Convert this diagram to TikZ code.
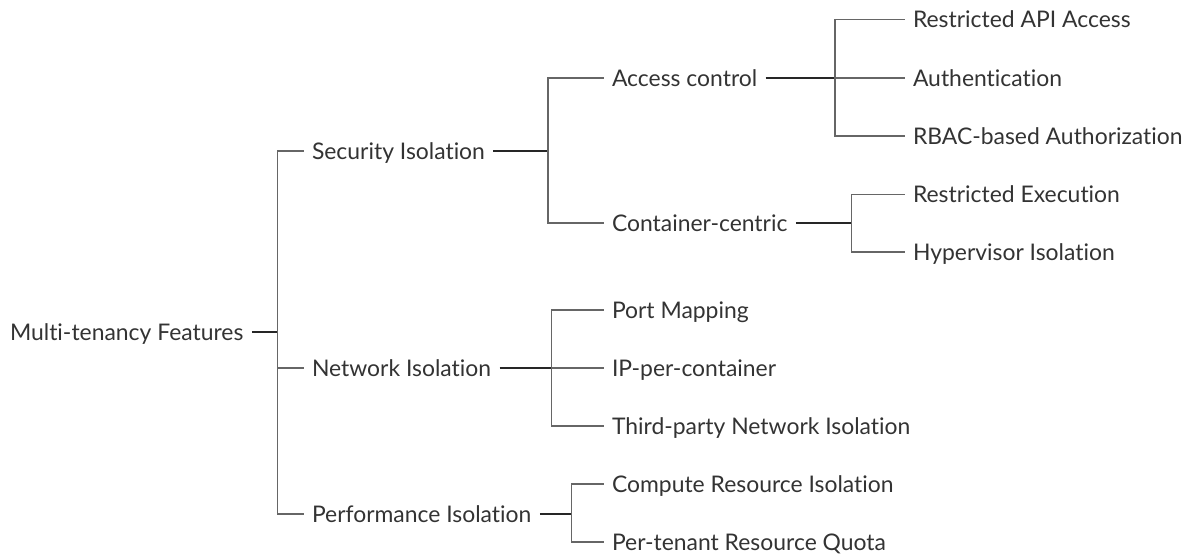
\documentclass[tikz,border=0pt]{standalone}
\usepackage{fontspec}
\setmainfont{Lato}[Ligatures=NoCommon]
\begin{document}
\begin{tikzpicture}[x=1pt,y=-1pt,
  lbl/.style={anchor=west, inner xsep=8.5pt, inner ysep=0pt, outer sep=0pt,
    text height=16.4pt, text depth=0pt, font=\fontsize{22.9}{27}\selectfont, text=black!80},
  parentline/.style={draw=black!85, line width=1.3pt},
  childline/.style={draw=black!60, line width=1.1pt}]
\useasboundingbox (0,0) rectangle (1189,554);
% nodes
\node[lbl] (root) at (1.5,332) {Multi-tenancy Features};
\node[lbl] (sec) at (303.5,151) {Security Isolation};
\node[lbl] (net) at (303.5,368) {Network Isolation};
\node[lbl] (perf) at (303.5,514) {Performance Isolation};
\node[lbl] (acc) at (603.5,78) {Access control};
\node[lbl] (cont) at (603.5,223) {Container-centric};
\node[lbl] (rapi) at (904.5,19.5) {Restricted API Access};
\node[lbl] (auth) at (904.5,78) {Authentication};
\node[lbl] (rbac) at (904.5,136) {RBAC-based Authorization};
\node[lbl] (rexe) at (904.5,194.5) {Restricted Execution};
\node[lbl] (hyp) at (904.5,252) {Hypervisor Isolation};
\node[lbl] (port) at (603.5,310) {Port Mapping};
\node[lbl] (ip) at (603.5,368) {IP-per-container};
\node[lbl] (third) at (603.5,426) {Third-party Network Isolation};
\node[lbl] (comp) at (603.5,484) {Compute Resource Isolation};
\node[lbl] (quota) at (603.5,542) {Per-tenant Resource Quota};
% junctions
\coordinate (j0) at (277.5,332);
\coordinate (js) at (548,151);
\coordinate (ja) at (835,78);
\coordinate (jc) at (851.5,223);
\coordinate (jn) at (551.5,368);
\coordinate (jp) at (571.5,514);
% root
\draw[parentline] (root.east) -- (j0);
\draw[childline] (sec.west) -| (j0 |- perf.west) -- (perf.west);
\draw[childline] (j0 |- net.west) -- (net.west);
% security
\draw[parentline] (sec.east) -- (js);
\draw[childline] (acc.west) -| (js |- cont.west) -- (cont.west);
% access control
\draw[parentline] (acc.east) -- (ja);
\draw[childline] (rapi.west) -| (ja |- rbac.west) -- (rbac.west);
\draw[childline] (ja) -- (auth.west);
% container
\draw[parentline] (cont.east) -- (jc);
\draw[childline] (rexe.west) -| (jc |- hyp.west) -- (hyp.west);
% network
\draw[parentline] (net.east) -- (jn);
\draw[childline] (port.west) -| (jn |- third.west) -- (third.west);
\draw[childline] (jn) -- (ip.west);
% performance
\draw[parentline] (perf.east) -- (jp);
\draw[childline] (comp.west) -| (jp |- quota.west) -- (quota.west);
\end{tikzpicture}
\end{document}
